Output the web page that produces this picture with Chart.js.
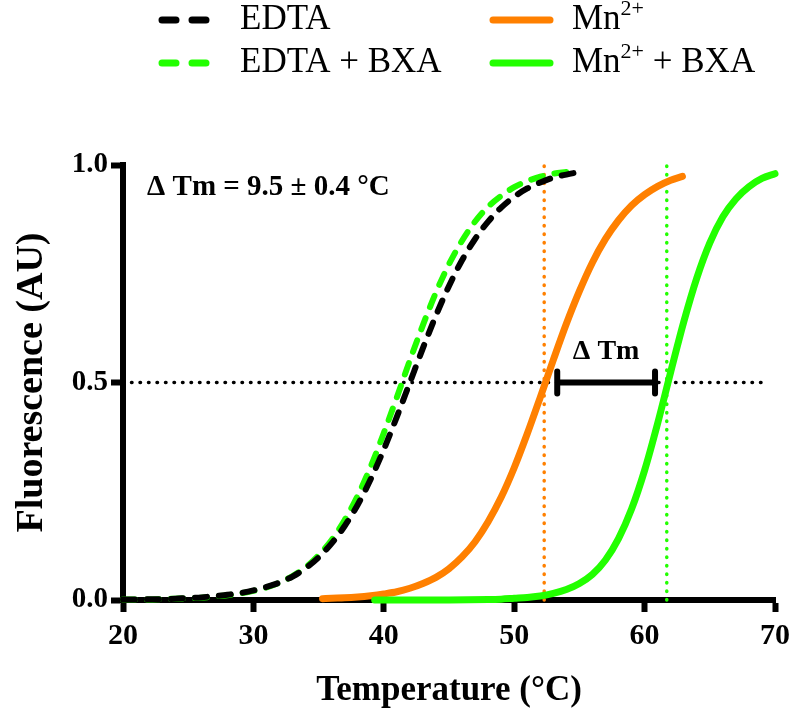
<!DOCTYPE html>
<html>
<head>
<meta charset="utf-8">
<script src="https://cdn.jsdelivr.net/npm/chart.js@4"></script>
<style>
  html, body { margin: 0; padding: 0; background: #fff; }
  canvas { display: block; }
</style>
</head>
<body>
<canvas id="meltChart" width="793" height="719"></canvas>
<script>
// melting curves (temperature in °C, fluorescence in AU)
var edtaTemps = [20, 21, 22, 23, 24, 25, 26, 27, 28, 29, 30, 31, 32, 33, 34, 35, 36, 37, 38, 39, 40, 41, 42, 43, 44, 45, 46, 47, 48, 49, 50, 51, 52, 53, 54, 55];
var edtaValues = [0.001, 0.001, 0.002, 0.002, 0.003, 0.005, 0.006, 0.009, 0.012, 0.016, 0.022, 0.030, 0.040, 0.054, 0.073, 0.098, 0.130, 0.170, 0.219, 0.278, 0.346, 0.421, 0.500, 0.579, 0.654, 0.722, 0.781, 0.830, 0.870, 0.902, 0.927, 0.946, 0.960, 0.971, 0.978, 0.984];

var edtaBxaTemps = [20, 21, 22, 23, 24, 25, 26, 27, 28, 29, 30, 31, 32, 33, 34, 35, 36, 37, 38, 39, 40, 41, 42, 43, 44, 45, 46, 47, 48, 49, 50, 51, 52, 53, 54];
var edtaBxaValues = [0.001, 0.001, 0.001, 0.002, 0.003, 0.004, 0.005, 0.008, 0.011, 0.015, 0.021, 0.029, 0.040, 0.055, 0.075, 0.103, 0.138, 0.184, 0.240, 0.307, 0.384, 0.466, 0.551, 0.632, 0.707, 0.772, 0.826, 0.870, 0.904, 0.929, 0.949, 0.963, 0.973, 0.980, 0.984];

var mnTemps = [35.3, 36, 37, 38, 39, 40, 41, 42, 43, 44, 45, 46, 47, 48, 49, 50, 51, 52, 53, 54, 55, 56, 57, 58, 59, 60, 61, 62, 62.9];
var mnValues = [0.003, 0.004, 0.005, 0.007, 0.010, 0.014, 0.019, 0.027, 0.038, 0.052, 0.072, 0.099, 0.134, 0.180, 0.236, 0.304, 0.382, 0.466, 0.552, 0.635, 0.710, 0.776, 0.830, 0.873, 0.907, 0.932, 0.951, 0.965, 0.974];

var mnBxaTemps = [39.3, 42, 45, 48, 49, 50, 51, 52, 53, 54, 55, 56, 57, 58, 59, 60, 61, 62, 63, 64, 65, 66, 67, 68, 69, 70];
var mnBxaValues = [0.000, 0.000, 0.000, 0.001, 0.002, 0.004, 0.006, 0.009, 0.015, 0.024, 0.038, 0.059, 0.092, 0.141, 0.209, 0.298, 0.406, 0.524, 0.639, 0.740, 0.821, 0.881, 0.922, 0.950, 0.969, 0.980];

// dotted guide lines
var halfTemps = [20, 69.5];
var halfValues = [0.5, 0.5];
var mnTmTemps = [52.3, 52.3];
var mnTmValues = [0, 1.01];
var bxaTmTemps = [61.7, 61.7];
var bxaTmValues = [0, 1.01];

// delta Tm bracket
var deltaTemps = [53.3, 60.8];
var deltaLevel = 0.5;

var xTicks = [20, 30, 40, 50, 60, 70];
var yTicks = [0, 0.5, 1];

var BLACK = '#000000';
var GREEN = '#22ff00';
var ORANGE = '#ff8000';
var SERIF = "'Liberation Serif', 'Times New Roman', serif";

function points(xs, ys) {
    var out = [];
    for (var i = 0; i < xs.length; i++) {
        out.push({ x: xs[i], y: ys[i] });
    }
    return out;
}

function curve(label, xs, ys, color, dashed, order) {
    return {
        label: label,
        data: points(xs, ys),
        borderColor: color,
        borderWidth: dashed ? 6 : 7,
        borderDash: dashed ? [12, 12] : [],
        borderCapStyle: 'round',
        cubicInterpolationMode: 'monotone',
        pointRadius: 0,
        fill: false,
        clip: false,
        order: order
    };
}

function dotted(xs, ys, color) {
    return {
        data: points(xs, ys),
        borderColor: color,
        borderWidth: 3.5,
        borderDash: [0.5, 8],
        borderCapStyle: 'round',
        pointRadius: 0,
        fill: false,
        clip: false,
        order: 10
    };
}

var legendItems = [
    { text: 'EDTA', sup: '', color: BLACK, dashed: true, col: 0, row: 0 },
    { text: 'EDTA + BXA', sup: '', color: GREEN, dashed: true, col: 0, row: 1 },
    { text: 'Mn', sup: '2+', rest: '', color: ORANGE, dashed: false, col: 1, row: 0 },
    { text: 'Mn', sup: '2+', rest: ' + BXA', color: GREEN, dashed: false, col: 1, row: 1 }
];

var legendPlugin = {
    id: 'topLegend',
    afterDraw: function (chart) {
        var ctx = chart.ctx;
        var lineX = [[162, 207], [493, 550]];
        var textX = [240, 572];
        var rowY = [20, 63];
        ctx.save();
        legendItems.forEach(function (it) {
            var y = rowY[it.row];
            ctx.beginPath();
            ctx.strokeStyle = it.color;
            ctx.lineWidth = 7;
            ctx.lineCap = 'round';
            ctx.setLineDash(it.dashed ? [14, 16] : []);
            ctx.moveTo(lineX[it.col][0], y);
            ctx.lineTo(lineX[it.col][1], y);
            ctx.stroke();
            ctx.setLineDash([]);

            ctx.fillStyle = BLACK;
            ctx.textBaseline = 'middle';
            ctx.textAlign = 'left';
            ctx.font = '35px ' + SERIF;
            var x = textX[it.col];
            ctx.fillText(it.text, x, y);
            x += ctx.measureText(it.text).width;
            if (it.sup) {
                ctx.font = '22px ' + SERIF;
                ctx.fillText(it.sup, x, y - 11);
                x += ctx.measureText(it.sup).width;
                ctx.font = '35px ' + SERIF;
                ctx.fillText(it.rest, x, y);
            }
        });
        ctx.restore();
    }
};

var annotationPlugin = {
    id: 'deltaTm',
    afterDatasetsDraw: function (chart) {
        var ctx = chart.ctx;
        var xs = chart.scales.x, ys = chart.scales.y;
        var x1 = xs.getPixelForValue(deltaTemps[0]);
        var x2 = xs.getPixelForValue(deltaTemps[1]);
        var yp = ys.getPixelForValue(deltaLevel);
        ctx.save();
        ctx.strokeStyle = BLACK;
        ctx.lineWidth = 6;
        ctx.lineCap = 'round';
        ctx.beginPath();
        ctx.moveTo(x1, yp);
        ctx.lineTo(x2, yp);
        ctx.moveTo(x1, yp - 11);
        ctx.lineTo(x1, yp + 11);
        ctx.moveTo(x2, yp - 11);
        ctx.lineTo(x2, yp + 11);
        ctx.stroke();

        ctx.fillStyle = BLACK;
        ctx.textBaseline = 'middle';
        ctx.textAlign = 'center';
        ctx.font = 'bold 28px ' + SERIF;
        ctx.fillText('\u0394 Tm', (x1 + x2) / 2, ys.getPixelForValue(0.57));

        ctx.textAlign = 'left';
        ctx.font = 'bold 29px ' + SERIF;
        ctx.fillText('\u0394 Tm = 9.5 \u00b1 0.4 \u00b0C', xs.getPixelForValue(21.85), ys.getPixelForValue(0.949));
        ctx.restore();
    }
};

var ctx = document.getElementById('meltChart').getContext('2d');

var myChart = new Chart(ctx, {
    type: 'line',
    data: {
        datasets: [
            dotted(halfTemps, halfValues, BLACK),
            dotted(mnTmTemps, mnTmValues, ORANGE),
            dotted(bxaTmTemps, bxaTmValues, GREEN),
            curve('EDTA + BXA', edtaBxaTemps, edtaBxaValues, GREEN, true, 4),
            curve('EDTA', edtaTemps, edtaValues, BLACK, true, 3),
            curve('Mn2+', mnTemps, mnValues, ORANGE, false, 2),
            curve('Mn2+ + BXA', mnBxaTemps, mnBxaValues, GREEN, false, 1)
        ]
    },
    options: {
        responsive: false,
        animation: false,
        layout: { padding: { top: 165, right: 18, left: 0, bottom: 0 } },
        plugins: {
            legend: { display: false },
            tooltip: { enabled: false }
        },
        scales: {
            x: {
                type: 'linear',
                min: 20,
                max: 70,
                afterBuildTicks: function (scale) {
                    scale.ticks = xTicks.map(function (v) { return { value: v }; });
                },
                afterFit: function (scale) {
                    scale.height = 119;
                    scale.paddingLeft = 0;
                    scale.paddingRight = 0;
                },
                ticks: {
                    color: BLACK,
                    padding: 6,
                    font: { family: SERIF, size: 30, weight: 'bold' }
                },
                grid: { drawOnChartArea: false, drawTicks: true, tickLength: 12, tickWidth: 6, tickColor: BLACK },
                border: { display: true, width: 6, color: BLACK },
                title: {
                    display: true,
                    text: 'Temperature (\u00b0C)',
                    color: BLACK,
                    padding: { top: 0, bottom: 7 },
                    font: { family: SERIF, size: 35, weight: 'bold' }
                }
            },
            y: {
                type: 'linear',
                min: 0,
                max: 1,
                afterBuildTicks: function (scale) {
                    scale.ticks = yTicks.map(function (v) { return { value: v }; });
                },
                afterFit: function (scale) { scale.width = 123; },
                ticks: {
                    color: BLACK,
                    padding: 3,
                    font: { family: SERIF, size: 29, weight: 'bold' },
                    callback: function (v) { return Number(v).toFixed(1); }
                },
                grid: { drawOnChartArea: false, drawTicks: true, tickLength: 12, tickWidth: 6, tickColor: BLACK },
                border: { display: true, width: 6, color: BLACK },
                title: {
                    display: true,
                    text: 'Fluorescence (AU)',
                    color: BLACK,
                    padding: { top: 9, bottom: 0 },
                    font: { family: SERIF, size: 38, weight: 'bold' }
                }
            }
        }
    },
    plugins: [annotationPlugin, legendPlugin]
});
</script>
</body>
</html>
